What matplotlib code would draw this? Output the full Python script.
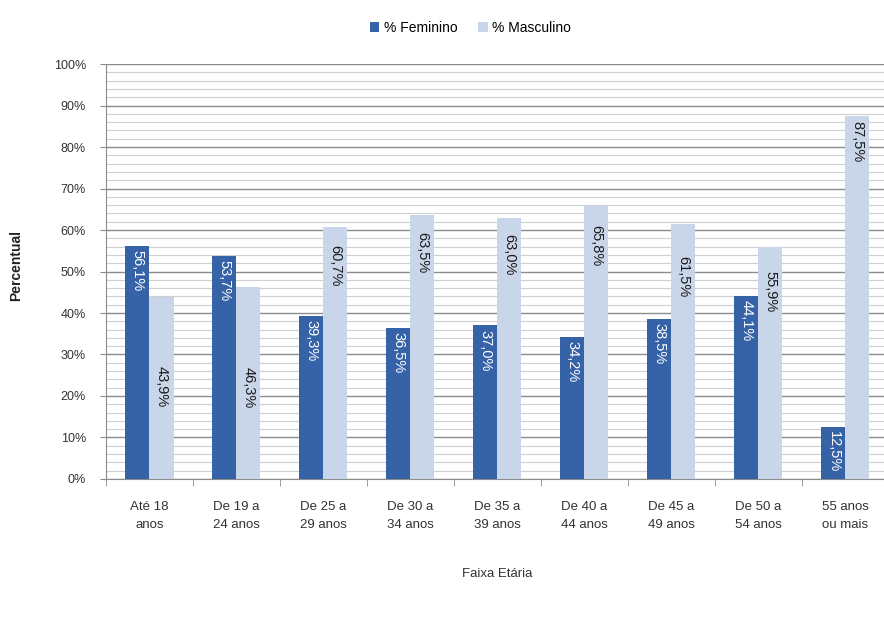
import numpy as np
import matplotlib
matplotlib.use('Agg')
import matplotlib.pyplot as plt
from matplotlib.ticker import MultipleLocator, PercentFormatter

plt.rcParams['font.family'] = ['Liberation Sans', 'DejaVu Sans']

# dados
faixas = ['Até 18\nanos', 'De 19 a\n24 anos', 'De 25 a\n29 anos', 'De 30 a\n34 anos',
          'De 35 a\n39 anos', 'De 40 a\n44 anos', 'De 45 a\n49 anos', 'De 50 a\n54 anos',
          '55 anos\nou mais']
feminino = [56.1, 53.7, 39.3, 36.5, 37.0, 34.2, 38.5, 44.1, 12.5]
masculino = [43.9, 46.3, 60.7, 63.5, 63.0, 65.8, 61.5, 55.9, 87.5]

# deslocamento (pontos) dos rótulos abaixo do topo da barra
desloc_fem = [3] * len(feminino)
desloc_masc = [50, 58, 13, 12, 12, 14, 23, 17, 4]

cor_fem = '#3663A8'
cor_masc = '#C9D6E9'

fig = plt.figure(figsize=(8.84, 6.17), dpi=100)
ax = fig.add_axes([0.1199, 0.2237, 0.8857, 0.6725])

x = np.arange(len(faixas))
w = 0.276
b1 = ax.bar(x - w / 2, feminino, w, color=cor_fem, label='% Feminino', zorder=3)
b2 = ax.bar(x + w / 2, masculino, w, color=cor_masc, label='% Masculino', zorder=3)

def fmt(v):
    return f'{v:.1f}%'.replace('.', ',')

for rect, v, d in zip(b1, feminino, desloc_fem):
    ax.annotate(fmt(v), (rect.get_x() + rect.get_width() / 2, v), xytext=(0, -d),
                textcoords='offset points', ha='center', va='top', rotation=270,
                color='white', fontsize=10.5, zorder=4)
for rect, v, d in zip(b2, masculino, desloc_masc):
    ax.annotate(fmt(v), (rect.get_x() + rect.get_width() / 2, v), xytext=(0, -d),
                textcoords='offset points', ha='center', va='top', rotation=270,
                color='#1a1a1a', fontsize=10.5, zorder=4)

ax.set_xlim(-0.5, len(faixas) - 0.5)
ax.set_ylim(0, 100)
ax.yaxis.set_major_locator(MultipleLocator(10))
ax.yaxis.set_minor_locator(MultipleLocator(2))
ax.yaxis.set_major_formatter(PercentFormatter(decimals=0))
ax.grid(axis='y', which='major', color='#8C8C8C', linewidth=1.0, zorder=0)
ax.grid(axis='y', which='minor', color='#CFCFCF', linewidth=0.8, zorder=0)

ax.set_xticks(x)
ax.set_xticklabels(faixas, fontsize=9.5, color='#333333', linespacing=1.7)
ax.set_xticks(np.arange(len(faixas) + 1) - 0.5, minor=True)
ax.tick_params(axis='x', which='major', length=0, pad=16)
ax.tick_params(axis='x', which='minor', length=5, color='#8C8C8C')
ax.tick_params(axis='y', which='major', length=4.5, color='#8C8C8C', labelsize=9,
               labelcolor='#333333', pad=10)
ax.tick_params(axis='y', which='minor', length=0)

for s in ['top', 'right']:
    ax.spines[s].set_visible(False)
ax.spines['left'].set_color('#8C8C8C')
ax.spines['bottom'].set_color('#8C8C8C')

ax.set_xlabel('Faixa Etária', fontsize=9.5, color='#333333', labelpad=26)
ax.set_ylabel('Percentual', fontsize=10, fontweight='bold', color='#222222')
ax.yaxis.set_label_coords(-0.106, 0.515)

fig.legend(handles=[b1, b2], loc='center', bbox_to_anchor=(0.532, 0.955), ncol=2,
           frameon=False, fontsize=10, handlelength=0.7, handleheight=0.7,
           handletextpad=0.3, columnspacing=1.5)

fig.savefig('out.png', dpi=100)
